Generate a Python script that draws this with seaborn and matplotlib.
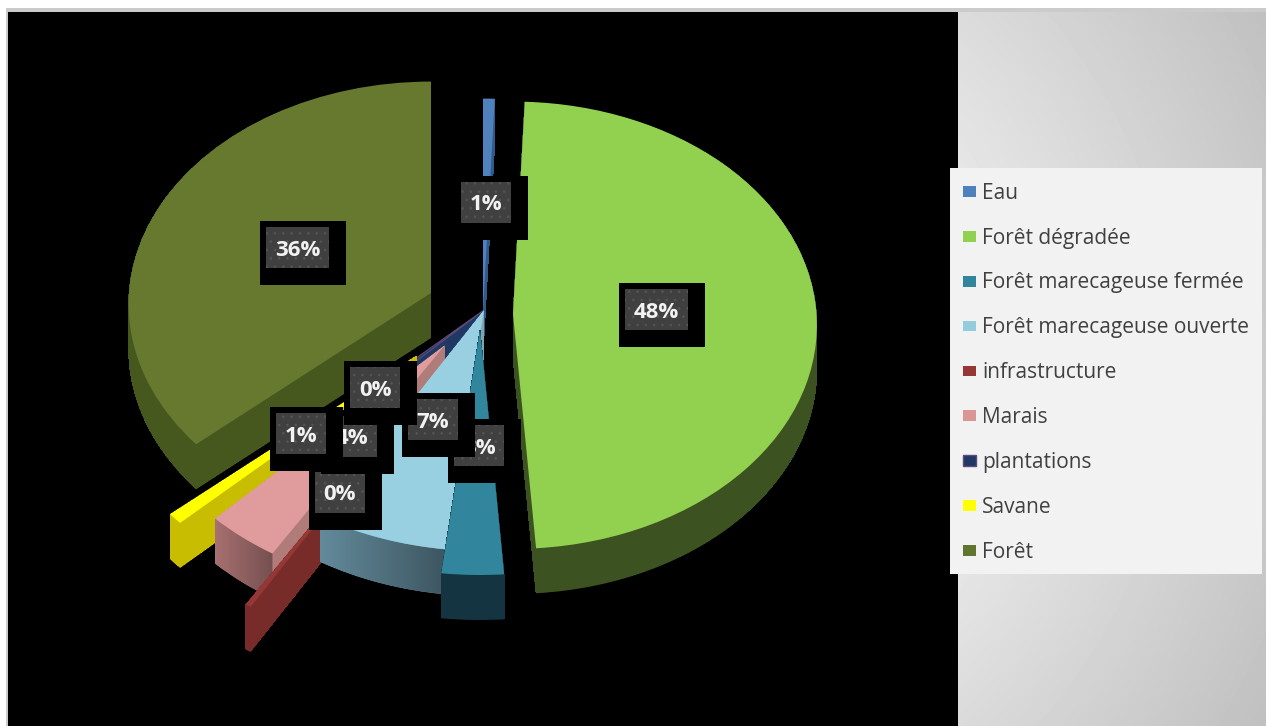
import numpy as np
import matplotlib
matplotlib.use("Agg")
import matplotlib.pyplot as plt
import matplotlib.transforms as mtransforms
from matplotlib.patches import Rectangle, Polygon, Patch
import seaborn as sns

categories = ["Eau", "Forêt dégradée", "Forêt marecageuse fermée", "Forêt marecageuse ouverte",
              "infrastructure", "Marais", "plantations", "Savane", "Forêt"]
shares = [0.65, 48.2, 3.0, 6.55, 0.3, 3.6, 0.49, 0.76, 36.45]

top_colors = ["#4f81bd", "#92d050", "#31859c", "#98d0e2", "#953735", "#e09c9c", "#1f3a63", "#ffff00", "#66792f"]
wall_colors = ["#2f5a8c", "#3c5220", "#133440", "#7fa5b0", "#772c2a", "#b07c7a", "#1f3864", "#c8bd00", "#47581f"]
swatch_colors = ["#4f81bd", "#92d050", "#31859c", "#93cddd", "#953735", "#d99694", "#1f3864", "#ffff00", "#5f7530"]

# layout of the exploded 3-D pie, in figure pixels
apex = [(483, 310), (513, 314), (480, 329), (484, 310), (418, 396), (445, 345), (484, 310), (417, 355), (431, 293)]
reach = [1.0, 1.005, 1.05, 1.03, 1.05, 1.05, 1.05, 1.05, 1.0]
stack = [5, 3, 9, 8, 7, 6, 4, 5, 1]
R, RS, K, DEPTH = 302, 222, 0.05, 45

# label boxes: left, top of the inner box
label_box = [(461, 182), (625, 289), (454, 425), (408, 399), (315, 472), (327, 416), (350, 367), (276, 413), (266, 227)]
label_order = [0, 1, 8, 2, 3, 4, 5, 6, 7]

W, H = 1266, 726
sns.set_theme(style="white")
plt.rcParams["font.family"] = ["Open Sans", "DejaVu Sans"]
plt.rcParams["hatch.linewidth"] = 0.6
fig = plt.figure(figsize=(W / 100, H / 100), dpi=100, facecolor="white")
ax = fig.add_axes([0, 0, 1, 1])


class Tilt(mtransforms.Transform):
    input_dims = output_dims = 2
    is_separable = False
    has_inverse = False

    def __init__(self, cx, cy, drop=0):
        super().__init__()
        self.cx, self.cy, self.drop = cx, cy, drop

    def transform_non_affine(self, xy):
        xy = np.asarray(xy, float)
        w = 1 + K * xy[:, 1]
        return np.column_stack([self.cx + R * xy[:, 0] / w,
                                self.cy + self.drop - RS * xy[:, 1] / w])


# background
yy, xx = np.mgrid[0:H, 0:W]
dist = np.hypot(xx - 633, yy - 363)
shade = np.clip(236 - (dist - 325) * 44 / 400, 192, 242) / 255
ax.imshow(shade, cmap="gray", vmin=0, vmax=1, extent=(0, W, H, 0), aspect="auto", zorder=0)
ax.add_patch(Rectangle((0, 0), W, 8, fc="white", ec="none", zorder=0.5))
ax.add_patch(Rectangle((0, 0), 6, H, fc="white", ec="none", zorder=0.5))
ax.add_patch(Rectangle((6, 8), W - 6, 4, fc="#cbcbcb", ec="none", zorder=0.6))
ax.add_patch(Rectangle((6, 8), 2, H - 8, fc="#cbcbcb", ec="none", zorder=0.6))
ax.add_patch(Rectangle((8, 12), 950, H - 12, fc="black", ec="none", zorder=1))

# extruded pie: one pie per depth layer, the top face last
palette_top = sns.color_palette(top_colors)
palette_wall = sns.color_palette(wall_colors)
handles_src = None
for d in range(DEPTH, -1, -1):
    wedges, _ = ax.pie(shares, startangle=90, counterclock=False,
                       colors=palette_top if d == 0 else palette_wall)
    for i, w in enumerate(wedges):
        w.set_radius(reach[i])
        w.set_transform(Tilt(apex[i][0], apex[i][1], d) + ax.transData)
        w.set_zorder(2 + stack[i] + (DEPTH - d) / 1000)
        w.set_edgecolor("none")
        w.set_linewidth(0)
        w.set_antialiased(d == 0 or d == DEPTH)
        if d == 0 and categories[i] == "plantations":
            w.set_edgecolor("#604a7b")
            w.set_linewidth(0.8)
    if d == 0:
        handles_src = wedges
ax.set_aspect("auto")

# shaded outer rims
for i, lo, hi in [(3, "#638a9b", "#3d5661"), (5, "#a87070", "#755050")]:
    wd = handles_src[i]
    th = np.radians(np.linspace(wd.theta1, wd.theta2, 60))
    pts = np.column_stack([reach[i] * np.cos(th), reach[i] * np.sin(th)])
    upper = Tilt(*apex[i], 0).transform_non_affine(pts)
    lower = Tilt(*apex[i], DEPTH).transform_non_affine(pts)
    poly = Polygon(np.vstack([upper, lower[::-1]]), closed=True, fc="none", ec="none",
                   transform=ax.transData)
    ax.add_patch(poly)
    x0, x1 = upper[:, 0].min(), upper[:, 0].max()
    grad = np.linspace(0, 1, 64).reshape(1, -1, 1)
    c0, c1 = np.array(matplotlib.colors.to_rgb(lo)), np.array(matplotlib.colors.to_rgb(hi))
    img = c0 + (c1 - c0) * grad
    y0 = min(upper[:, 1].min(), lower[:, 1].min())
    y1 = max(upper[:, 1].max(), lower[:, 1].max())
    im = ax.imshow(img, extent=(x0, x1, y1, y0), aspect="auto", zorder=2 + stack[i] + 0.0445)
    im.set_clip_path(poly)

# data labels
total = sum(shares)
for n, i in enumerate(label_order):
    x, y = label_box[i]
    wide = shares[i] >= 10
    bw = 63 if wide else 50
    z = 50 + n
    ax.add_patch(Rectangle((x - 6, y - 6), bw + 23, 64, fc="black", ec="none", zorder=z))
    ax.add_patch(Rectangle((x, y), bw, 41, fc="#404040", ec="#555555", lw=0, hatch="..", zorder=z + 0.1))
    ax.text(x + bw / 2, y + 23, f"{shares[i] / total:.0%}", color="#f2f2f2", fontsize=16,
            fontweight="bold", ha="center", va="center", family=["Open Sans", "DejaVu Sans"], zorder=z + 0.2)

# legend
ax.add_patch(Rectangle((950, 168), 312, 406, fc="#f2f2f2", ec="none", zorder=80))
handles = [Patch(fc=c, ec="#604a7b" if name == "plantations" else c, lw=1 if name == "plantations" else 0)
           for name, c in zip(categories, swatch_colors)]
leg = ax.legend(handles, categories, loc="upper left", bbox_to_anchor=(948.6 / W, 1 - 168 / H), frameon=False,
                fontsize=15, labelcolor="#404040", labelspacing=1.15, handlelength=0.62, handleheight=0.43,
                handletextpad=0.29, borderpad=0.7, borderaxespad=0)
leg.set_zorder(90)

ax.set_xlim(0, W)
ax.set_ylim(H, 0)
ax.axis("off")
fig.savefig("out.png", dpi=100)
